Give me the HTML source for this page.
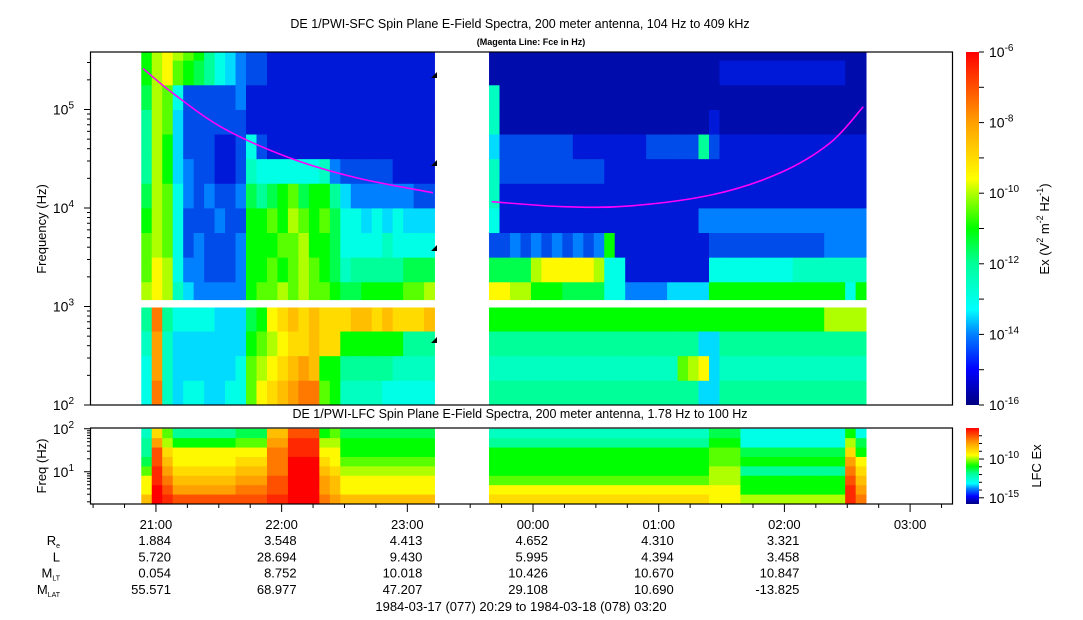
<!DOCTYPE html>
<html><head><meta charset="utf-8"><title>DE 1 PWI spectra</title>
<style>
html,body{margin:0;padding:0;background:#fff;}
svg{display:block;font-family:"Liberation Sans",Arial,sans-serif;}
</style></head>
<body>
<svg id="chart" width="1083" height="620" viewBox="0 0 1083 620" xmlns="http://www.w3.org/2000/svg">
<defs>
<linearGradient id="cmap" x1="0" y1="1" x2="0" y2="0"></linearGradient>
<clipPath id="clipTop"><rect x="90" y="52" width="863" height="353"/></clipPath>
<clipPath id="clipLow"><rect x="90" y="428" width="863" height="76"/></clipPath>
</defs>
<rect x="0" y="0" width="1083" height="620" fill="#fff"/>
<text x="520" y="28" font-size="12.5" text-anchor="middle">DE 1/PWI-SFC  Spin Plane E-Field Spectra, 200 meter antenna, 104 Hz to 409 kHz</text>
<text x="531" y="45" font-size="9" font-weight="bold" text-anchor="middle">(Magenta Line: Fce in Hz)</text>
<text x="520" y="418" font-size="12.5" text-anchor="middle">DE 1/PWI-LFC  Spin Plane E-Field Spectra, 200 meter antenna, 1.78 Hz to 100 Hz</text>
<g id="sfcCells" clip-path="url(#clipTop)"></g>
<g id="lfcCells" clip-path="url(#clipLow)"></g>
<g id="overlay"></g>
<g id="axes"></g>
</svg>
<script>
// ---------- data ----------
const timeStart = 20 + 29/60, timeEnd = 27 + 20/60;
const colMinutes = 5;
const sfcLeftStart = 20 + 53/60;
const sfcRightStart = 23 + 39/60;
// level chars: value = -16 + 0.5*index, index in "0123456789ABCDEFGHIJK"
// rows from bottom (100 Hz) upward, 0.25 decade each
const sfcLeftRows = [
 "6H75665566BDEFGHHBA777766666",
 "6G75555556BCDEFGFAA888887777",
 "7G75555555ABCDEEFEEAAAAAA888",
 "8H86666555" + "9A" + "DEFEFEE" + "EFFEFEEEF",
 "CDC7544444ABBCBCBBA99AAAABBC",
 "BDC6443334AABABCBA9788888999",
 "BCB6343334AAABBCAA9666676666",
 "ACB6333433AABACBAB9665656555",
 "9CB643433498" + "9AB9AA8" + "544444433",
 "8CA5433223766666674333332222",
 "8CA5333223632222222222222222",
 "8CB5333333222222222222222222",
 "9CB6333334222222222222222222",
 "ACDBA98654332222222222222222",
 "ACDCBA8654332222222222222222"
];
const sfcRightRows = [
 "88888888888888888888" + "55" + "88888888888888",
 "777777777777777777" + "BCD" + "5" + "77777777777777",
 "88888888888888888888" + "55" + "88888888888888",
 "AAAAAAAAAAAAAAAAAAAAAAAAAAAAAAAACCCC",
 "DDCC" + "AAA9999" + "66" + "44445555" + "AAAAAAAAAAAAA6A",
 "9999" + "CDDDDDC" + "66" + "22222222" + "666666667777777",
 "3" + "3434343434" + "A" + "222222222" + "33333333333" + "4444",
 "6" + "2222222222222222222" + "4444444444444444",
 "7" + "22222222222222222222222222222222222",
 "7" + "3333333333" + "2222222222222222222222222",
 "5" + "3333333" + "2222222" + "3333383" + "22222222222222",
 "7" + "11111111111111111111" + "2" + "11111111111111",
 "7" + "11111111111111111111111111111111111",
 "1111111111111111111111" + "222222222222" + "11",
 "111111111111111111111111111111111111"
];
// LFC bands from top (100 Hz) down to 1.78 Hz
const lfcLeftBands = [
 "7EB888888999FFIIIAB999999999",
 "8GCAAAAAABBBGGJJJCCAAAAAAAAA",
 "8IEDDDDDDDDDHHJJJDDAAAAAAAAA",
 "9IFDDDDDDEEEHHKKKEDBBBBBBBBB",
 "BJGEEEEEEFFFHHKKKFECCCCCCCCC",
 "DJHFFFFFFGGGIIKKKGFDDDDDDDDD",
 "DKIGGGGGGHHHIIKKKGFDDDDDDDDD",
 "FKJIIIIIIIIIJJKKKHGFFFFFFFFF"
];
const lfcRightBands = [
 "777777777777777777777" + "999" + "6666666666" + "A6",
 "888888888888888888888" + "AAA" + "6666666666" + "C9",
 "AAAAAAAAAAAAAAAAAAAAA" + "BBB" + "9999999999" + "EA",
 "AAAAAAAAAAAAAAAAAAAAA" + "BBB" + "AAAAAAAAAA" + "GD",
 "AAAAAAAAAAAAAAAAAAAAA" + "CCC" + "8888888888" + "HE",
 "BBBBBBBBBBBBBBBBBBBBB" + "CCC" + "AAAAAAAAAA" + "IF",
 "DDDDDDDDDDDDDDDDDDDDD" + "DDD" + "AAAAAAAAAA" + "JG",
 "EEEEEEEEEEEEEEEEEEEEE" + "DDD" + "CCCCCCCCCC" + "JH"
];
// Fce (magenta) line
const fceLeftTimes = [20.897, 21.136, 21.534, 22.066, 22.599, 23.204];
const fceLeftHz = [261000, 146000, 64700, 32200, 20200, 14300];
const fceRightTimes = [23.671, 24.241, 24.772, 25.434, 25.965, 26.363, 26.628];
const fceRightHz = [11600, 10300, 10500, 13700, 22700, 45700, 107000];
// axis labels / ephemeris
const tickHours = [21, 22, 23, 24, 25, 26, 27];
const tickLabels = ["21:00", "22:00", "23:00", "00:00", "01:00", "02:00", "03:00"];
const ephRe = ["1.884", "3.548", "4.413", "4.652", "4.310", "3.321"];
const ephL = ["5.720", "28.694", "9.430", "5.995", "4.394", "3.458"];
const ephMLT = ["0.054", "8.752", "10.018", "10.426", "10.670", "10.847"];
const ephMLAT = ["55.571", "68.977", "47.207", "29.108", "10.690", "-13.825"];
const sfcDecades = [2, 3, 4, 5];
const cbarSfcLabels = [-6, -8, -10, -12, -14, -16];
const cbarLfcLabels = [-10, -15];

// ---------- scales ----------
const NS = "http://www.w3.org/2000/svg";
const X0 = 91, X1 = 952;
function xOf(h){ return X0 + (h - timeStart) * (X1 - X0) / (timeEnd - timeStart); }
function ySfc(lf){ return 405 - (lf - 2) * 98.5; }
function yLfc(lf){ return 504 - (lf - 0.25) * 43; }
const cmapStops = [[-16,[0,0,128]],[-15,[0,24,215]],[-14,[0,128,255]],[-13.3,[0,255,255]],[-12,[0,255,153]],[-11,[0,255,0]],[-10,[176,255,0]],[-9.6,[255,255,0]],[-8,[255,160,0]],[-7,[255,80,0]],[-6,[255,0,0]]];
const cbarStops = [[-16,[0,0,128]],[-15,[0,0,255]],[-14,[0,128,255]],[-13.3,[0,255,255]],[-12,[0,255,153]],[-11,[0,255,0]],[-10,[176,255,0]],[-9.6,[255,255,0]],[-8,[255,160,0]],[-7,[255,80,0]],[-6,[255,0,0]]];
function colorOf(v){
  if (v <= cmapStops[0][0]) return rgb(cmapStops[0][1]);
  for (let i = 1; i < cmapStops.length; i++){
    if (v <= cmapStops[i][0]){
      const a = cmapStops[i-1], b = cmapStops[i];
      const t = (v - a[0]) / (b[0] - a[0]);
      return rgb(a[1].map((c, k) => Math.round(c + (b[1][k] - c) * t)));
    }
  }
  return rgb(cmapStops[cmapStops.length-1][1]);
}
function rgb(c){ return "rgb(" + c[0] + "," + c[1] + "," + c[2] + ")"; }
const LEVELS = "0123456789ABCDEFGHIJK";
function levelValue(ch){ return -16 + 0.5 * LEVELS.indexOf(ch); }
function mk(tag, attrs, parent){
  const e = document.createElementNS(NS, tag);
  for (const k in attrs) e.setAttribute(k, attrs[k]);
  parent.appendChild(e);
  return e;
}

// ---------- gradient ----------
const grad = document.getElementById("cmap");
cbarStops.forEach(s => {
  const st = document.createElementNS(NS, "stop");
  st.setAttribute("offset", ((s[0] + 16) / 10).toFixed(3));
  st.setAttribute("stop-color", rgb(s[1]));
  grad.appendChild(st);
});

// ---------- SFC heatmap ----------
const sfcG = document.getElementById("sfcCells");
function drawSfc(rows, start){
  rows.forEach((row, r) => {
    const yA = ySfc(2 + 0.25 * (r + 1)), yB = ySfc(2 + 0.25 * r);
    for (let i = 0; i < row.length; i++){
      const xa = xOf(start + i * colMinutes / 60), xb = xOf(start + (i + 1) * colMinutes / 60);
      const c = mk("rect", {x: xa.toFixed(2), y: yA.toFixed(2), width: (xb - xa + 0.4).toFixed(2), height: (yB - yA + 0.4).toFixed(2), fill: colorOf(levelValue(row[i]))}, sfcG);
      
      
    }
  });
}
drawSfc(sfcLeftRows, sfcLeftStart);
drawSfc(sfcRightRows, sfcRightStart);
const gap = mk("rect", {x: 90, y: ySfc(3.065), width: 863, height: ySfc(2.99) - ySfc(3.065), fill: "#fff"}, sfcG);



// ---------- LFC heatmap ----------
const lfcG = document.getElementById("lfcCells");
function drawLfc(bands, start){
  const bw = 1.75 / bands.length;
  bands.forEach((row, b) => {
    const yA = yLfc(2 - b * bw), yB = yLfc(2 - (b + 1) * bw);
    for (let i = 0; i < row.length; i++){
      const xa = xOf(start + i * colMinutes / 60), xb = xOf(start + (i + 1) * colMinutes / 60);
      const c = mk("rect", {x: xa.toFixed(2), y: yA.toFixed(2), width: (xb - xa + 0.4).toFixed(2), height: (yB - yA + 0.4).toFixed(2), fill: colorOf(levelValue(row[i]))}, lfcG);
      
      
    }
  });
}
drawLfc(lfcLeftBands, sfcLeftStart);
drawLfc(lfcRightBands, sfcRightStart);

// ---------- Fce line ----------
const ov = document.getElementById("overlay");
function smoothPath(pts){
  let d = "M" + pts[0][0].toFixed(1) + "," + pts[0][1].toFixed(1);
  for (let i = 0; i < pts.length - 1; i++){
    const p0 = pts[Math.max(0, i-1)], p1 = pts[i], p2 = pts[i+1], p3 = pts[Math.min(pts.length-1, i+2)];
    const c1 = [p1[0] + (p2[0]-p0[0])/6, p1[1] + (p2[1]-p0[1])/6];
    const c2 = [p2[0] - (p3[0]-p1[0])/6, p2[1] - (p3[1]-p1[1])/6];
    d += " C" + c1.map(v=>v.toFixed(1)).join(",") + " " + c2.map(v=>v.toFixed(1)).join(",") + " " + p2[0].toFixed(1) + "," + p2[1].toFixed(1);
  }
  return d;
}
[[fceLeftTimes, fceLeftHz], [fceRightTimes, fceRightHz]].forEach(pair => {
  const pts = pair[0].map((t, i) => [xOf(t), ySfc(Math.log10(pair[1][i]))]);
  const p = mk("path", {d: smoothPath(pts), fill: "none", stroke: "#ff00ff", "stroke-width": 1.6}, ov);
  
  
});
[75, 163, 248, 340].forEach(y => {
  const t = mk("polygon", {points: "431," + (y+3) + " 437," + (y-3) + " 437," + (y+3), fill: "#000"}, ov);
  
  
});

// ---------- axes ----------
const ax = document.getElementById("axes");
function frame(x, y, w, h, name){
  const r = mk("rect", {x: x, y: y, width: w, height: h, fill: "none", stroke: "#000", "stroke-width": 1.2}, ax);
  
  
}
frame(90.5, 52, 862, 353, "sfc-plot-frame");
frame(90.5, 428, 862, 76, "lfc-plot-frame");
function line(x1, y1, x2, y2, name){
  const l = mk("line", {x1: x1, y1: y1, x2: x2, y2: y2, stroke: "#000", "stroke-width": 1}, ax);
  
  
}
function powText(x, y, base, exp, anchor, name, size){
  const t = mk("text", {x: x, y: y, "font-size": size || 14, "text-anchor": anchor}, ax);
  
  
  const a = document.createElementNS(NS, "tspan"); a.textContent = base; t.appendChild(a);
  const b = document.createElementNS(NS, "tspan"); b.setAttribute("dy", "-6"); b.setAttribute("font-size", "10"); b.textContent = exp; t.appendChild(b);
  return t;
}
for (let d = 2; d <= 5; d++){
  for (let k = 1; k <= 9; k++){
    const lf = d + Math.log10(k);
    if (lf > 5.6) break;
    const y = ySfc(lf);
    line(90, y, k === 1 ? 84 : 87, y, k === 1 ? "y-major-tick" : "y-minor-tick");
  }
}
sfcDecades.forEach(d => powText(74, ySfc(d) + 5, "10", String(d), "end", "y-tick-label"));
const ylab = mk("text", {x: 0, y: 0, "font-size": 13, "text-anchor": "middle", transform: "translate(46,229) rotate(-90)"}, ax);
ylab.textContent = "Frequency (Hz)";


for (let d = 0; d <= 2; d++){
  for (let k = 1; k <= 9; k++){
    const lf = d + Math.log10(k);
    if (lf < 0.25 || lf > 2.001) continue;
    const y = yLfc(lf);
    line(90, y, k === 1 ? 84 : 87, y, k === 1 ? "lfc-y-major-tick" : "lfc-y-minor-tick");
  }
}
[1, 2].forEach(d => powText(74, yLfc(d) + 5, "10", String(d), "end", "lfc-y-tick-label"));
const ylab2 = mk("text", {x: 0, y: 0, "font-size": 13, "text-anchor": "middle", transform: "translate(46,466) rotate(-90)"}, ax);
ylab2.textContent = "Freq (Hz)";


for (let m = 0; ; m += 15){
  const h = 20.5 + m / 60;
  if (h > timeEnd) break;
  if (h < timeStart) continue;
  const major = (m % 60) === 30;
  line(xOf(h), 504, xOf(h), major ? 512 : 508, major ? "x-major-tick" : "x-minor-tick");
}
tickHours.forEach((h, i) => {
  const t = mk("text", {x: xOf(h), y: 529, "font-size": 13, "text-anchor": "middle"}, ax);
  t.textContent = tickLabels[i];
  
  
});
const ephRows = [ephRe, ephL, ephMLT, ephMLAT];
const ephNames = [["R","e"], ["L",""], ["M","LT"], ["M","LAT"]];
ephRows.forEach((vals, r) => {
  const y = 545 + r * 16.3;
  const lab = mk("text", {x: 60, y: y, "font-size": 13, "text-anchor": "end"}, ax);
  
  
  const a = document.createElementNS(NS, "tspan"); a.textContent = ephNames[r][0]; lab.appendChild(a);
  if (ephNames[r][1]){
    const b = document.createElementNS(NS, "tspan"); b.setAttribute("dy", "3"); b.setAttribute("font-size", "7"); b.textContent = ephNames[r][1]; lab.appendChild(b);
  }
  vals.forEach((v, i) => {
    const t = mk("text", {x: xOf(tickHours[i]) + 15, y: y, "font-size": 13, "text-anchor": "end"}, ax);
    t.textContent = v;
    
    
  });
});
const dt = mk("text", {x: 521, y: 611, "font-size": 13, "text-anchor": "middle"}, ax);
dt.textContent = "1984-03-17 (077) 20:29 to 1984-03-18 (078) 03:20";


const cb1 = mk("rect", {x: 966, y: 52, width: 13, height: 353, fill: "url(#cmap)"}, ax);


function cbY1(v){ return 52 + (-6 - v) / 10 * 353; }
for (let v = -6; v >= -16; v--) line(979, cbY1(v), 984, cbY1(v), "colorbar-tick");
cbarSfcLabels.forEach(v => powText(989, cbY1(v) + 5, "10", String(v), "start", "colorbar-tick-label"));
const cbt = mk("text", {x: 0, y: 0, "font-size": 13, "text-anchor": "middle", transform: "translate(1049,229) rotate(-90)"}, ax);


[["Ex (V",0,13],["2",-6,9],[" m",6,13],["-2",-6,9],[" Hz",6,13],["-1",-6,9],[")",6,13]].forEach(p => {
  const s = document.createElementNS(NS, "tspan"); s.setAttribute("dy", p[1]); s.setAttribute("font-size", p[2]); s.textContent = p[0]; cbt.appendChild(s);
});
const cb2 = mk("rect", {x: 966, y: 428, width: 13, height: 76, fill: "url(#cmap)"}, ax);


function cbY2(v){ return 428 + (-6 - v) / 9.8 * 76; }
for (let v = -7; v >= -15; v--) line(979, cbY2(v), (v % 5 === 0) ? 984 : 982, cbY2(v), "lfc-colorbar-tick");
cbarLfcLabels.forEach(v => powText(989, cbY2(v) + 5, "10", String(v), "start", "lfc-colorbar-tick-label"));
const cbt2 = mk("text", {x: 0, y: 0, "font-size": 13, "text-anchor": "middle", transform: "translate(1041,466) rotate(-90)"}, ax);
cbt2.textContent = "LFC Ex";


</script>
</body></html>
